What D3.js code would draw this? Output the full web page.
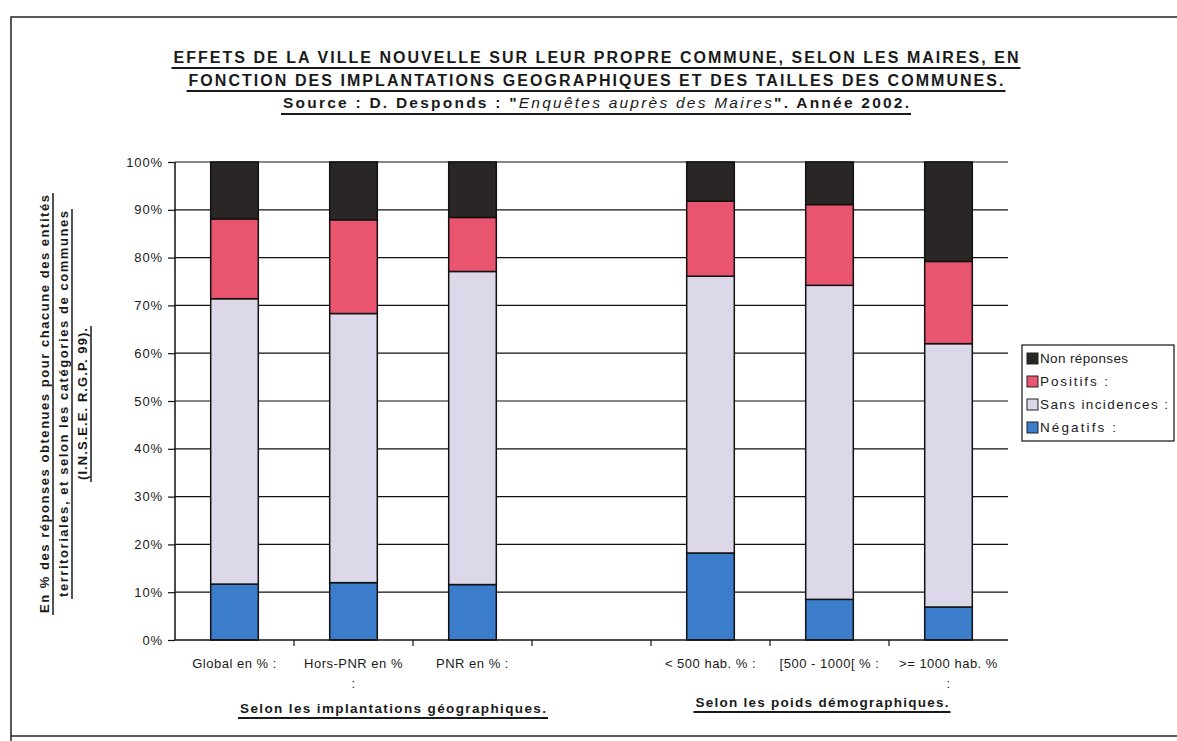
<!DOCTYPE html>
<html><head><meta charset="utf-8">
<script src="https://cdn.jsdelivr.net/npm/d3@7"></script>
<style>
html,body{margin:0;padding:0;background:#fff;}
svg{display:block;font-family:"Liberation Sans",Arial,sans-serif;}
</style></head>
<body>
<svg id="chart" width="1177" height="741"></svg>
<script>
// ---- data ----
const categories = ["Global", "Hors-PNR", "PNR", "gap", "<500", "500-1000", ">=1000"];
const barCategories = ["Global", "Hors-PNR", "PNR", "<500", "500-1000", ">=1000"];
const tickLabels = [["Global en % :"], ["Hors-PNR en %", ":"], ["PNR en % :"], [""], ["< 500 hab. % :"], ["[500 - 1000[ % :"], [">= 1000 hab. %", ":"]];
const negatifs = [11.7, 12.0, 11.6, 18.2, 8.5, 6.9];
const sansIncidences = [59.7, 56.3, 65.5, 57.9, 65.7, 55.1];
const positifs = [16.7, 19.6, 11.3, 15.7, 16.9, 17.2];
const nonReponses = [11.9, 12.1, 11.6, 8.2, 8.9, 20.8];
const seriesNames = ["Négatifs :", "Sans incidences :", "Positifs :", "Non réponses"];
const seriesColors = ["#3b7dcb", "#dcd8e9", "#e9546f", "#2a2625"];
const yTicks = [0, 10, 20, 30, 40, 50, 60, 70, 80, 90, 100];

const svg = d3.select("#chart");

// frame
svg.append("path").attr("d", "M11,741 L11,17 L1177,17").attr("fill", "none").attr("stroke", "#222").attr("stroke-width", 1.5);
svg.append("line").attr("x1", 11).attr("x2", 1177).attr("y1", 736).attr("y2", 736).attr("stroke", "#222").attr("stroke-width", 1.5);

// scales
const x = d3.scaleBand().domain(categories).range([175, 1008]).paddingInner(0.6).paddingOuter(0.3);
const y = d3.scaleLinear().domain([0, 100]).range([640, 162]);

// gridlines
svg.append("g").selectAll("line").data(yTicks.filter(d => d > 0)).join("line")
  .attr("x1", 175).attr("x2", 1008).attr("y1", d => y(d)).attr("y2", d => y(d))
  .attr("stroke", "#111").attr("stroke-width", 1.2);

// stacked bars
const rows = barCategories.map((c, i) => ({cat: c, s0: negatifs[i], s1: sansIncidences[i], s2: positifs[i], s3: nonReponses[i]}));
const stack = d3.stack().keys(["s0", "s1", "s2", "s3"])(rows);
svg.append("g").selectAll("g").data(stack).join("g")
  .attr("fill", (d, i) => seriesColors[i])
  .selectAll("rect").data(d => d).join("rect")
  .attr("x", d => x(d.data.cat)).attr("width", x.bandwidth())
  .attr("y", d => y(d[1])).attr("height", d => y(d[0]) - y(d[1]))
  .attr("stroke", "#111").attr("stroke-width", 1.5);

// y axis
const yAxis = d3.axisLeft(y).tickValues(yTicks).tickSize(7).tickPadding(5).tickFormat(d => d + "%");
const gy = svg.append("g").attr("transform", "translate(175,0)").call(yAxis);
gy.select(".domain").attr("stroke", "#111").attr("stroke-width", 1.5).attr("d", "M0," + y(100) + "V" + y(0));
gy.selectAll(".tick line").attr("stroke", "#111").attr("stroke-width", 1.2);
gy.selectAll("text").attr("font-size", 13).attr("letter-spacing", "0.9px").attr("fill", "#1a1a1a").attr("font-family", "Liberation Sans, Arial, sans-serif");

// x axis
const step = x.step();
const gx = svg.append("g");
gx.append("line").attr("x1", 175).attr("x2", 1008).attr("y1", y(0)).attr("y2", y(0)).attr("stroke", "#111").attr("stroke-width", 1.5);
gx.selectAll("line.tk").data(categories.slice(1)).join("line").attr("class", "tk")
  .attr("x1", d => x(d) - (step - x.bandwidth()) / 2).attr("x2", d => x(d) - (step - x.bandwidth()) / 2)
  .attr("y1", y(0)).attr("y2", y(0) + 6).attr("stroke", "#111").attr("stroke-width", 1.2);
gx.selectAll("text.lab").data(categories).join("text").attr("class", "lab")
  .attr("x", d => x(d) + x.bandwidth() / 2).attr("y", 668)
  .attr("text-anchor", "middle").attr("font-size", 13).attr("letter-spacing", "0.5px").attr("fill", "#1a1a1a")
  .each(function(d, i) {
    const t = d3.select(this);
    tickLabels[i].forEach((ln, j) => {
      t.append("tspan").attr("x", x(d) + x.bandwidth() / 2).attr("dy", j === 0 ? 0 : 20).text(ln);
    });
  });

// helper: underlined text
function uText(g, txt, cx, by, opts) {
  const t = g.append("text").attr("x", cx).attr("y", by).attr("text-anchor", "middle")
    .attr("font-size", opts.size).attr("font-weight", opts.weight || "bold").attr("fill", "#1a1a1a")
    .attr("font-family", opts.family || "Liberation Sans, Arial, sans-serif");
  if (opts.len) t.attr("textLength", opts.len).attr("lengthAdjust", "spacing");
  if (opts.parts) {
    opts.parts.forEach(p => t.append("tspan").attr("font-style", p.italic ? "italic" : "normal").attr("font-weight", p.italic ? "normal" : "bold").text(p.t));
  } else t.text(txt);
  const w = opts.len || t.node().getComputedTextLength();
  g.append("line").attr("x1", cx - w / 2 - 2).attr("x2", cx + w / 2 + 2).attr("y1", by + opts.ul).attr("y2", by + opts.ul)
    .attr("stroke", "#1a1a1a").attr("stroke-width", opts.ulw || 2);
  return t;
}

// title
const gt = svg.append("g");
uText(gt, "EFFETS DE LA VILLE NOUVELLE SUR LEUR PROPRE COMMUNE, SELON LES MAIRES, EN", 596, 63, {size: 16, len: 845, ul: 5});
uText(gt, "FONCTION DES IMPLANTATIONS GEOGRAPHIQUES ET DES TAILLES DES COMMUNES.", 596, 86, {size: 16, len: 815, ul: 5});
uText(gt, "", 596, 108, {size: 15.5, len: 626, ul: 6, parts: [
  {t: "Source : D. Desponds : \""}, {t: "Enquêtes auprès des Maires", italic: true}, {t: "\". Année 2002."}]});

// y-axis title (rotated)
const yl = svg.append("g").attr("transform", "translate(0,404) rotate(-90)");
const yLines = ["En % des réponses obtenues pour chacune des entités", "territoriales, et selon les catégories de communes", "(I.N.S.E.E. R.G.P. 99)."];
const yLens = [418, 386, 152];
const yPos = [49, 68, 87];
yLines.forEach((ln, i) => uText(yl, ln, 0, yPos[i], {size: 13, len: yLens[i], ul: 4, ulw: 1.5}));

// section labels
const gs = svg.append("g");
uText(gs, "Selon les implantations géographiques.", 393, 713, {size: 13.5, len: 306, ul: 5});
uText(gs, "Selon les poids démographiques.", 822, 707, {size: 13.5, len: 253, ul: 5});

// legend
const lg = svg.append("g");
lg.append("rect").attr("x", 1022).attr("y", 345).attr("width", 152).attr("height", 96).attr("fill", "#fff").attr("stroke", "#111").attr("stroke-width", 1.2);
const legendOrder = [3, 2, 1, 0];
const legendLens = [88, 68, 128, 76];
legendOrder.forEach((si, k) => {
  const yy = 363 + k * 23;
  lg.append("rect").attr("x", 1027).attr("y", yy - 10).attr("width", 11).attr("height", 11)
    .attr("fill", seriesColors[si]).attr("stroke", "#222").attr("stroke-width", 1);
  lg.append("text").attr("x", 1040).attr("y", yy).attr("font-size", 13.5).attr("fill", "#1a1a1a")
    .attr("textLength", legendLens[k]).attr("lengthAdjust", "spacing").text(seriesNames[si]);
});
</script>
</body></html>
